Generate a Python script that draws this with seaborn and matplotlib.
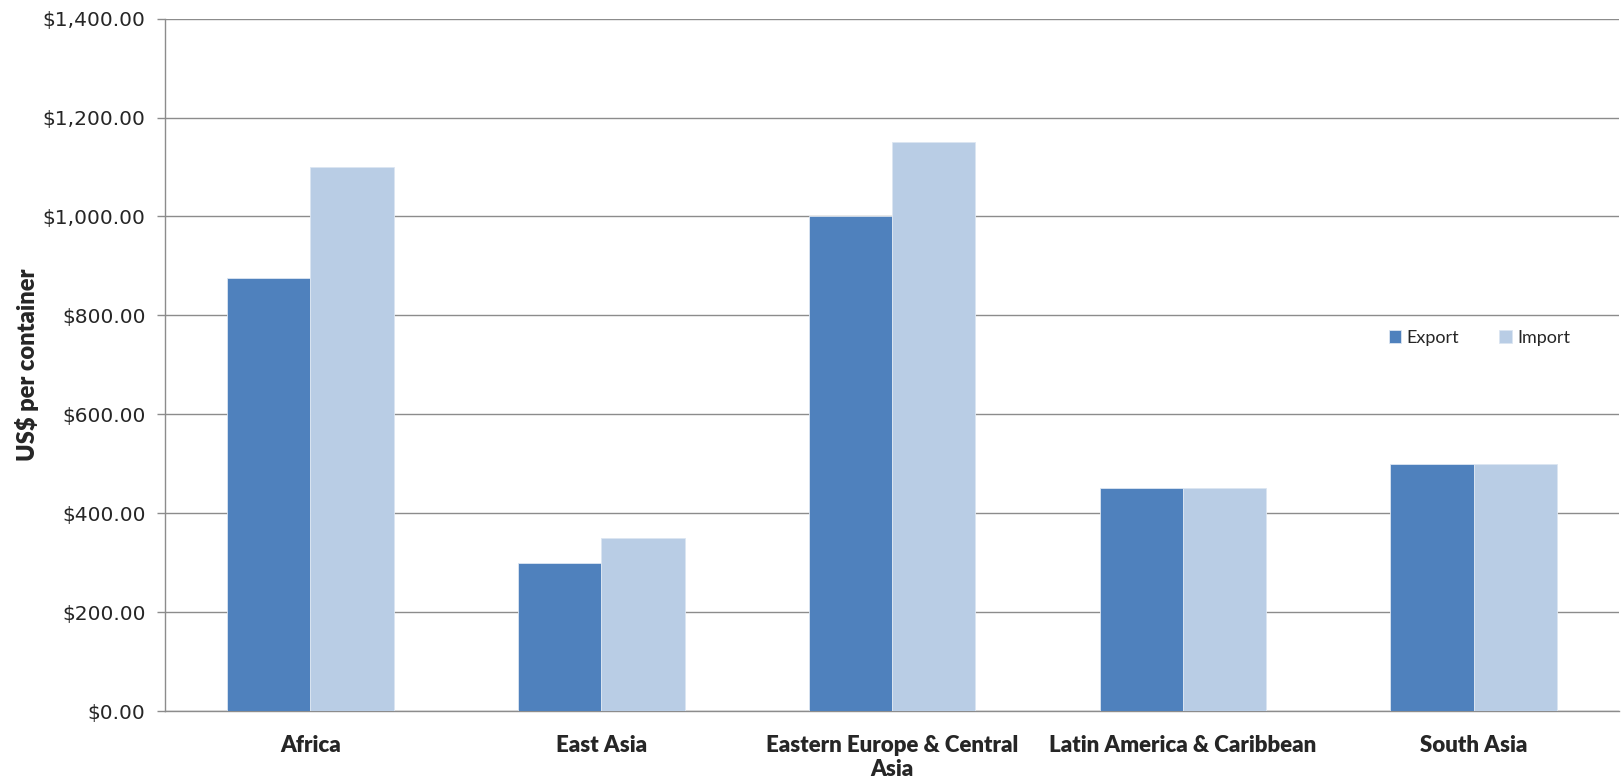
import textwrap
import pandas as pd
import numpy as np
import matplotlib.pyplot as plt
import seaborn as sns
from matplotlib.ticker import FuncFormatter, FixedLocator

regions = ['Africa', 'East Asia', 'Eastern Europe & Central Asia',
           'Latin America & Caribbean', 'South Asia']
export = [875, 300, 1000, 450, 500]
imports = [1100, 350, 1150, 450, 500]
series = ['Export', 'Import']
colors = ['#4F81BD', '#B9CDE5']

df = pd.DataFrame({
    'region': regions * 2,
    'value': export + imports,
    'kind': ['Export'] * len(regions) + ['Import'] * len(regions),
})

sns.set_style('white')
plt.rcParams['font.family'] = ['Lato', 'DejaVu Sans']

fig = plt.figure(figsize=(16.21, 7.81), dpi=100)
ax = fig.add_axes([0.1018, 0.0896, 0.8970, 0.8866])

sns.barplot(data=df, x='region', y='value', hue='kind', order=regions,
            hue_order=series, palette=colors, saturation=1, width=0.573, gap=0,
            edgecolor='#DCE6F2', linewidth=0.6, ax=ax, zorder=3)

ax.set_ylim(0, 1400)
ax.set_xlim(-0.5, len(regions) - 0.5)
ax.set_yticks(np.arange(0, 1401, 200))
ax.yaxis.set_major_formatter(FuncFormatter(lambda v, p: '${:,.2f}'.format(v)))
for lab in ax.get_yticklabels():
    lab.set_family('DejaVu Sans')
    lab.set_fontsize(14.5)
ax.grid(axis='y', color='#8C8C8C', linewidth=1, zorder=0)
ax.set_axisbelow(True)

ax.set_xticks(range(len(regions)))
ax.set_xticklabels([textwrap.fill(r, 25) for r in regions],
                   fontsize=16, fontweight='heavy', linespacing=1.2)
ax.xaxis.set_minor_locator(FixedLocator(np.arange(-0.5, len(regions), 1)))
ax.tick_params(axis='x', which='major', length=0, pad=17)
ax.tick_params(axis='x', which='minor', length=6, color='#8C8C8C', width=1)
ax.tick_params(axis='y', which='major', length=6, color='#8C8C8C', width=1,
               left=True, pad=8)

for side in ['top', 'right']:
    ax.spines[side].set_visible(False)
for side in ['left', 'bottom']:
    ax.spines[side].set_color('#8C8C8C')
    ax.spines[side].set_linewidth(1)

ax.set_xlabel('')
ax.set_ylabel('US$ per container', fontsize=17, fontweight='heavy', labelpad=3)

ax.legend(loc='center', bbox_to_anchor=(0.904, 0.539), ncol=2, frameon=False,
          fontsize=13, handlelength=0.7, handleheight=0.7,
          handletextpad=0.3, columnspacing=2.2)

fig.savefig('out.png', dpi=100)
